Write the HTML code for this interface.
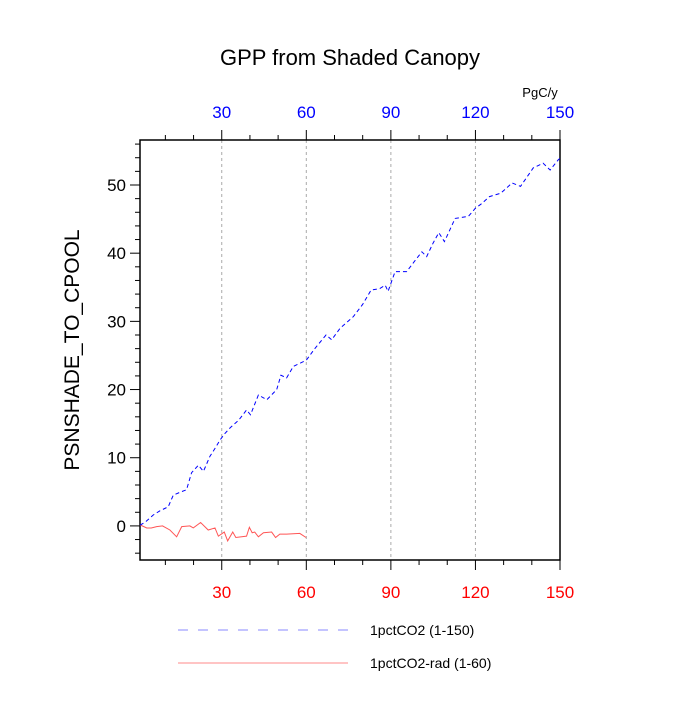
<!DOCTYPE html>
<html><head><meta charset="utf-8"><style>body{margin:0;background:#fff}svg{font-family:"Liberation Sans",sans-serif}</style></head>
<body>
<svg id="c" width="700" height="700"></svg>
<script>
const blueYears=[1,3,5.7,8,11,12.8,15,17.5,19.3,21.7,23.5,25.8,27.5,29.4,31,33,36,38.8,40.2,43,46,49.5,51,53,55.4,60,63,67,69,72,76.7,80,83,86,88,89,91.5,95.6,98,101,102.7,105,107,109,112.8,117.5,120,122,125,129,133,136,140.5,144,146.5,149.4,150];
const blueVals=[0.1,0.6,1.6,2.2,2.8,4.5,4.9,5.3,7.8,8.9,8.0,10.2,11.3,12.6,13.5,14.4,15.5,17,16.3,19.2,18.5,20,22.1,21.7,23.4,24.3,26,28,27.3,29,30.7,32.5,34.6,34.8,35.3,34.4,37.3,37.3,38.6,40.2,39.5,41.5,43,41.7,45.1,45.4,46.6,47.2,48.3,48.8,50.3,49.8,52.5,53.2,52.2,53.7,53.9];
const redYears=[1,3.4,5,6.9,9,11.6,14,15.8,18.7,19.9,22.5,25.2,27.6,28.8,30.9,32.1,33.9,35,38.8,39.8,40.8,41.7,43,44.8,47.7,49.1,50.6,53,57.7,59.9];
const redVals=[0.15,-0.3,-0.3,-0.1,0,-0.6,-1.6,-0.1,0,-0.3,0.5,-0.6,-0.3,-1.5,-0.9,-2.2,-0.9,-1.7,-1.5,-0.2,-1.0,-0.9,-1.6,-1.0,-0.9,-1.7,-1.2,-1.2,-1.1,-1.7];
const xTicks=[30,60,90,120,150];
const yTicks=[0,10,20,30,40,50];
const L=140,R=560,T=140,B=560,X0=1,X1=150,Y0=-5,Y1=56.6;
const sx=v=>L+(v-X0)*(R-L)/(X1-X0), sy=v=>B-(v-Y0)*(B-T)/(Y1-Y0);
const svg=document.getElementById('c'),NS='http://www.w3.org/2000/svg';
function mk(t,a,p){const e=document.createElementNS(NS,t);for(const k in a)e.setAttribute(k,a[k]);(p||svg).appendChild(e);return e;}
function txt(s,a,name){const e=mk('text',a);e.textContent=s;

return e;}
// grid
xTicks.slice(0,4).forEach(v=>{const g=mk('line',{x1:sx(v),x2:sx(v),y1:T,y2:B,stroke:'#aaa','stroke-dasharray':'3,3','stroke-width':1});

});
// x ticks
for(let v=10;v<=150;v+=10){const maj=v%30===0;
const t1=mk('line',{x1:sx(v),x2:sx(v),y1:B,y2:B+(maj?10:5),stroke:'#000'});


const t2=mk('line',{x1:sx(v),x2:sx(v),y1:T,y2:T-(maj?10:5),stroke:'#000'});

}
xTicks.forEach(v=>{txt(String(v),{x:sx(v),y:B+38,'text-anchor':'middle','font-size':17,fill:'red'},'x-tick-label');
txt(String(v),{x:sx(v),y:T-22,'text-anchor':'middle','font-size':17,fill:'blue'},'top-x-tick-label');});
for(let v=-4;v<=56;v+=2){const maj=v%10===0;
const t=mk('line',{x1:L-(maj?10:5),x2:L,y1:sy(v),y2:sy(v),stroke:'#000'});

}
yTicks.forEach(v=>txt(String(v),{x:L-14,y:sy(v)+6,'text-anchor':'end','font-size':17},'y-tick-label'));
const fr=mk('rect',{x:L,y:T,width:R-L,height:B-T,fill:'none',stroke:'#000','stroke-width':1.5});


function line(xs,ys,col,dash,name){const p=mk('polyline',{points:xs.map((x,i)=>sx(x)+','+sy(ys[i])).join(' '),fill:'none',stroke:col,'stroke-width':1});
if(dash)p.setAttribute('stroke-dasharray',dash);

}
line(redYears,redVals,'#f55',null,'series-1pctco2-rad');
line(blueYears,blueVals,'#00f','4,3','series-1pctco2');
txt('GPP from Shaded Canopy',{x:350,y:65,'text-anchor':'middle','font-size':22},'chart-title');
txt('PgC/y',{x:540,y:97,'text-anchor':'middle','font-size':13},'units-label');
txt('PSNSHADE_TO_CPOOL',{x:0,y:0,'text-anchor':'middle','font-size':21,transform:'translate(79,350) rotate(-90)'},'y-axis-title');
const l1=mk('line',{x1:178,x2:348,y1:630,y2:630,stroke:'#88f','stroke-dasharray':'10,10'});


const l2=mk('line',{x1:178,x2:348,y1:663,y2:663,stroke:'#f88'});


txt('1pctCO2 (1-150)',{x:370,y:635,'font-size':14},'legend-entry-1pctco2');
txt('1pctCO2-rad (1-60)',{x:370,y:668,'font-size':14},'legend-entry-1pctco2-rad');
</script>
</body></html>
